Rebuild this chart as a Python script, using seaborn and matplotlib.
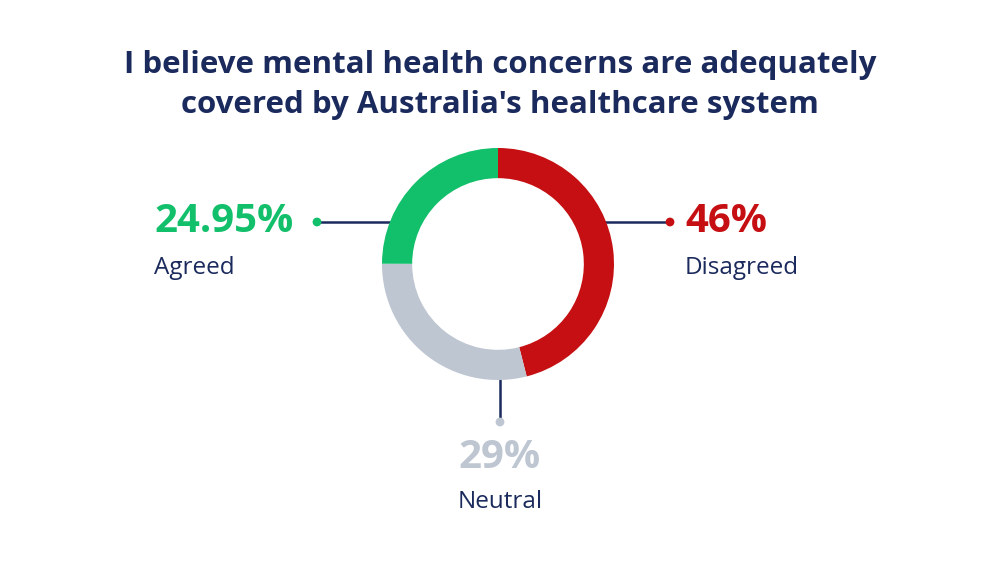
import matplotlib
matplotlib.use("Agg")
import matplotlib.pyplot as plt
import seaborn as sns

# data
labels = ["Disagreed", "Neutral", "Agreed"]
values = [46, 29, 24.95]
value_text = ["46%", "29%", "24.95%"]
colors = ["#C50F12", "#BEC6D2", "#12BF6A"]
title = "I believe mental health concerns are adequately\ncovered by Australia's healthcare system"

NAVY = "#1B2A5C"

sns.set_theme(style="white")
plt.rcParams["font.family"] = ["Open Sans", "DejaVu Sans"]

W, H = 1000, 563
fig = plt.figure(figsize=(W / 100, H / 100), dpi=100)
fig.patch.set_facecolor("white")

# overlay axes in pixel coords for text and connectors
ax = fig.add_axes([0, 0, 1, 1])
ax.set_xlim(0, W)
ax.set_ylim(H, 0)
ax.axis("off")

# donut axes
cx, cy, r = 498, 264, 116
pax = fig.add_axes([(cx - r) / W, (H - cy - r) / H, 2 * r / W, 2 * r / H])
pax.pie(values, colors=colors, startangle=90, counterclock=False,
        wedgeprops=dict(width=0.26, linewidth=0), radius=1)
pax.set_xlim(-1, 1)
pax.set_ylim(-1, 1)
pax.axis("off")

ax.text(500, 85, title, ha="center", va="center", fontsize=22.5, fontweight="bold",
        color=NAVY, linespacing=1.42)

# connectors
ax.plot([317, 392], [222, 222], color=NAVY, lw=1.8, zorder=1)
ax.plot([604, 670], [222, 222], color=NAVY, lw=1.8, zorder=1)
ax.plot([500, 500], [380, 422], color=NAVY, lw=1.8, zorder=1)
ax.scatter([670, 500, 317], [222, 422, 222], s=40, color=colors, zorder=3, linewidths=0)

# labels
ax.text(154, 222, value_text[2], ha="left", va="center", fontsize=29, fontweight="bold", color=colors[2])
ax.text(154, 268, labels[2], ha="left", va="center", fontsize=17.5, color=NAVY)
ax.text(685, 222, value_text[0], ha="left", va="center", fontsize=29, fontweight="bold", color=colors[0])
ax.text(685, 268, labels[0], ha="left", va="center", fontsize=17.5, color=NAVY)
ax.text(500, 457, value_text[1], ha="center", va="center", fontsize=29, fontweight="bold", color=colors[1])
ax.text(500, 502, labels[1], ha="center", va="center", fontsize=17.5, color=NAVY)

fig.savefig("out.png", dpi=100, facecolor="white")
